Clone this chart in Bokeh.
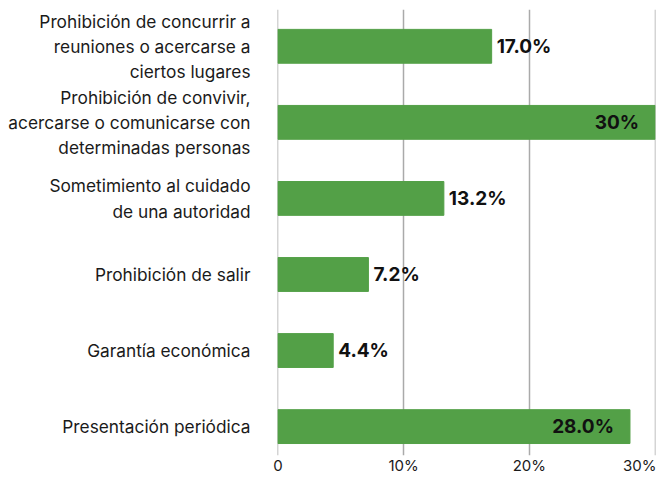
from bokeh.plotting import figure
from bokeh.models import ColumnDataSource, Range1d, FixedTicker
from bokeh.core.properties import value
from bokeh.embed import file_html
from bokeh.resources import INLINE

categories = [
    "Prohibición de concurrir a\nreuniones o acercarse a\nciertos lugares",
    "Prohibición de convivir,\nacercarse o comunicarse con\ndeterminadas personas",
    "Sometimiento al cuidado\nde una autoridad",
    "Prohibición de salir",
    "Garantía económica",
    "Presentación periódica",
]
values = [17.0, 30.0, 13.2, 7.2, 4.4, 28.0]
labels = ["17.0%", "30%", "13.2%", "7.2%", "4.4%", "28.0%"]
x_ticks = [0, 10, 20, 30]
x_tick_labels = ["0", "10%", "20%", "30%"]

n = len(categories)
ypos = [n - 1 - i for i in range(n)]

FONT = "Inter"
GREEN = "#53a047"

p = figure(width=656, height=477, output_backend="svg", toolbar_location=None,
           x_range=Range1d(-0.03, 30.03), y_range=Range1d(-0.38, n - 0.516),
           min_border_left=277, min_border_right=1, min_border_top=9,
           min_border_bottom=0)
p.outline_line_color = None

src = ColumnDataSource(dict(y=ypos, v=values, lab=labels, cat=categories))
p.hbar(y="y", right="v", left=0, height=0.445, color=GREEN, source=src)

inside = [i for i in range(n) if values[i] > 25]
outside = [i for i in range(n) if values[i] <= 25]
src_in = ColumnDataSource(dict(y=[ypos[i] for i in inside], v=[values[i] for i in inside],
                               lab=[labels[i] for i in inside]))
src_out = ColumnDataSource(dict(y=[ypos[i] for i in outside], v=[values[i] for i in outside],
                                lab=[labels[i] for i in outside]))
p.text(x="v", y="y", text="lab", source=src_out, x_offset=5, text_align="left",
       text_baseline="middle", text_font=value(FONT), text_font_style="bold",
       text_font_size="19px", text_color="#111111")
p.text(x="v", y="y", text="lab", source=src_in, x_offset=-16, text_align="right",
       text_baseline="middle", text_font=value(FONT), text_font_style="bold",
       text_font_size="19px", text_color="#111111")

p.xaxis.ticker = FixedTicker(ticks=x_ticks)
p.xaxis.major_label_overrides = {t: l for t, l in zip(x_ticks, x_tick_labels)}
p.yaxis.ticker = FixedTicker(ticks=ypos)
p.yaxis.major_label_overrides = {y: c for y, c in zip(ypos, categories)}

for ax in (p.xaxis[0], p.yaxis[0]):
    ax.axis_line_color = None
    ax.major_tick_line_color = None
    ax.minor_tick_line_color = None
    ax.major_label_text_font = FONT
    ax.major_label_text_color = "#1a1a1a"
p.yaxis.major_label_text_font_size = "17.3px"
p.xaxis.major_label_text_font_size = "15px"
p.yaxis.major_label_text_line_height = 1.2
p.xaxis.major_label_text_line_height = 1.0
p.xaxis.major_label_standoff = -6
p.yaxis.major_label_standoff = 21

p.xgrid.ticker = FixedTicker(ticks=x_ticks)
p.xgrid.grid_line_color = "#aaaaaa"
p.xgrid.grid_line_width = 1.5
p.ygrid.grid_line_color = None

open("out.html", "w").write(file_html(p, INLINE))
